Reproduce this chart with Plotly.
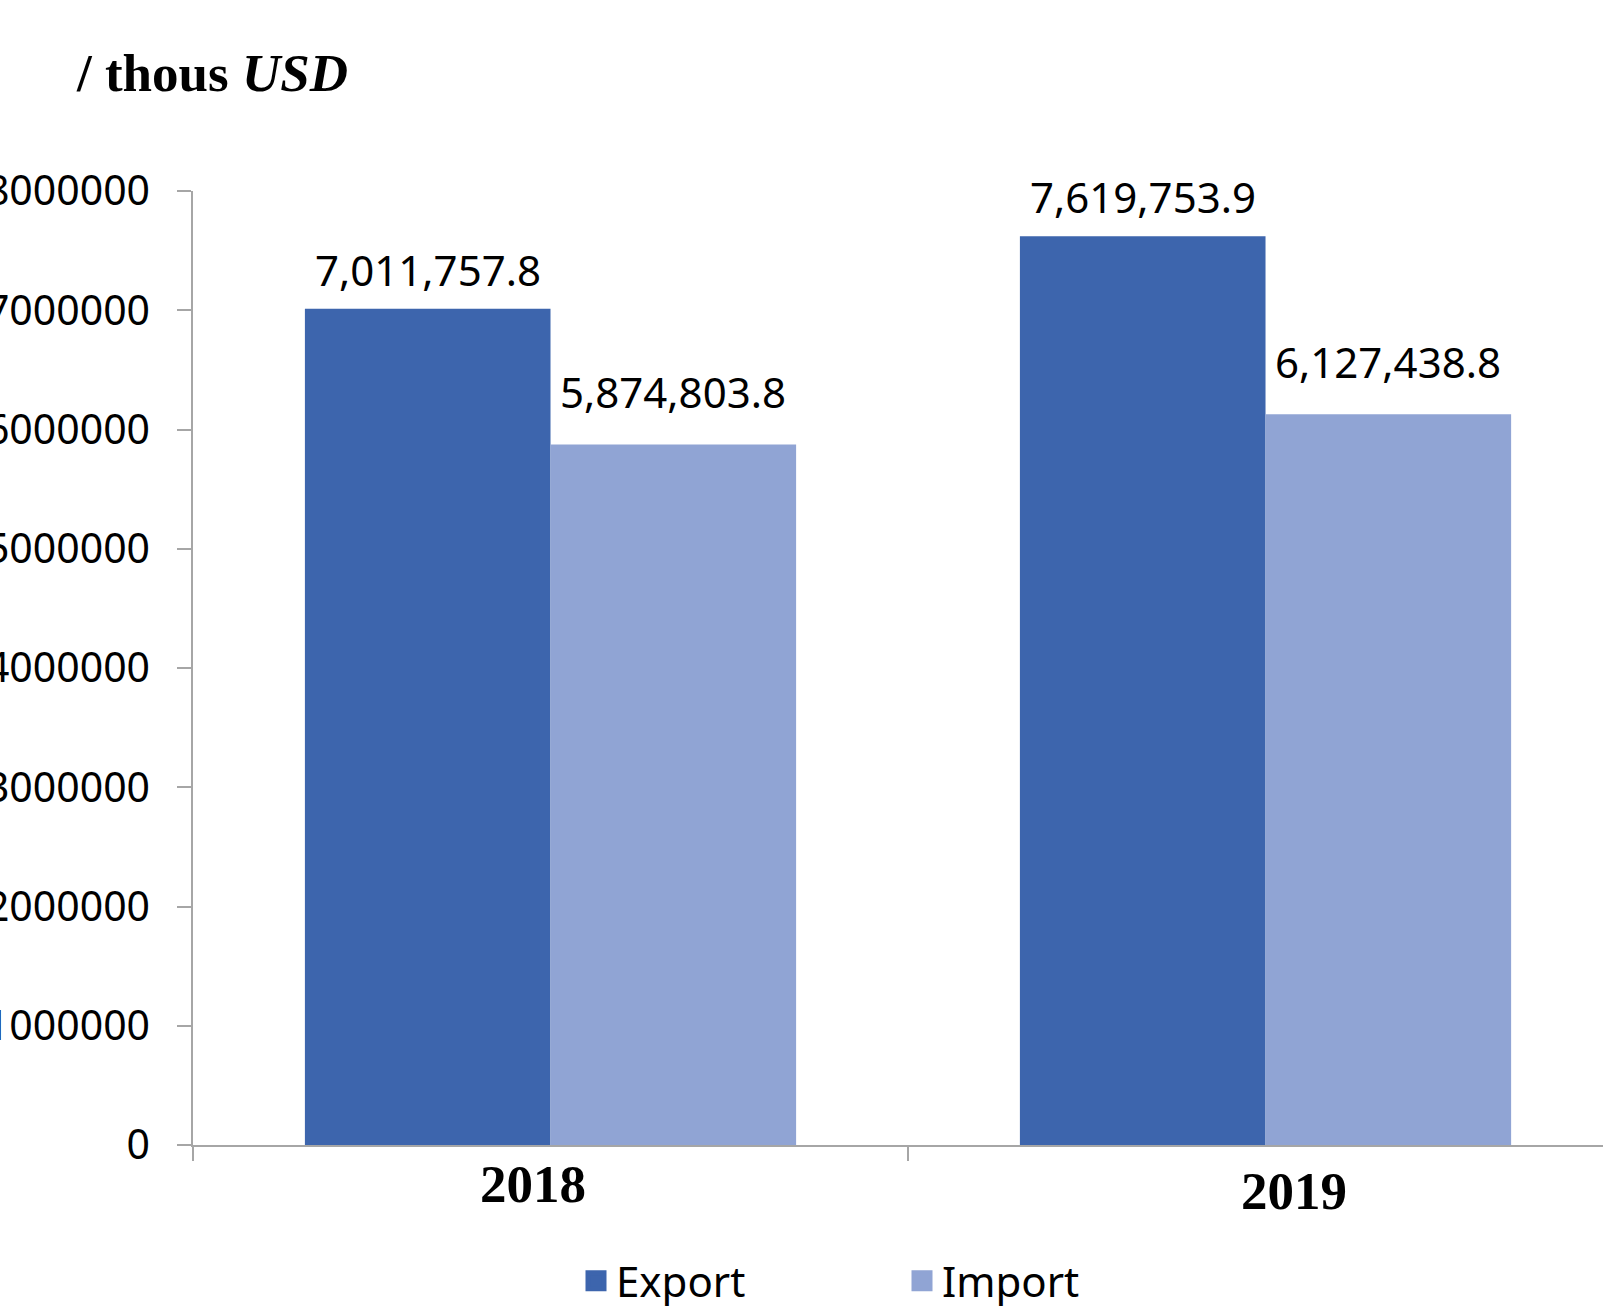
import plotly.graph_objects as go

categories = ["2018", "2019"]
export_values = [7011757.8, 7619753.9]
import_values = [5874803.8, 6127438.8]
series_names = ["Export", "Import"]
y_tick_values = [0, 1000000, 2000000, 3000000, 4000000, 5000000, 6000000, 7000000, 8000000]
y_tick_labels = ["0", "1000000", "2000000", "3000000", "4000000", "5000000", "6000000", "7000000", "8000000"]

colors = ["#3D65AD", "#90A4D4"]
label_font = dict(family="Noto Sans", size=42, color="#000000")
tick_font = dict(family="Noto Sans", size=41, color="#000000")

fig = go.Figure()
for name, vals, col in zip(series_names, [export_values, import_values], colors):
    fig.add_trace(go.Bar(name=name, x=categories, y=vals, showlegend=False,
                         marker=dict(color=col, line=dict(width=0))))
# legend entries (larger square swatches)
for name, col in zip(series_names, colors):
    fig.add_trace(go.Scatter(name=name, x=[None], y=[None], mode="markers",
                             marker=dict(symbol="square", size=16, color=col,
                                         line=dict(color=col, width=5))))

# data labels
bar_offsets = [-122.7, 122.7]
label_yshift = [9, 22]
for si, vals in enumerate([export_values, import_values]):
    for ci, v in enumerate(vals):
        fig.add_annotation(x=ci, y=v, xref="x", yref="y",
                           text=f"{v:,.1f}", showarrow=False, xshift=bar_offsets[si],
                           yanchor="bottom", yshift=label_yshift[si], font=label_font)

# category labels
cat_xshift = [-18, 28]
cat_yshift = [-39, -46]
for ci, c in enumerate(categories):
    fig.add_annotation(x=ci, y=0, xref="x", yref="y", text=f"<b>{c}</b>", showarrow=False,
                       xshift=cat_xshift[ci], yshift=cat_yshift[ci], yanchor="middle",
                       font=dict(family="Liberation Serif", size=53, color="#000000"))

fig.update_layout(
    width=1603, height=1306,
    margin=dict(l=193, r=0, t=191, b=161, autoexpand=False),
    paper_bgcolor="white", plot_bgcolor="white",
    barmode="group", bargap=0.313, bargroupgap=0,
    title=dict(text="<b>/ thous <i>USD</i></b>", x=77/1603, xanchor="left",
               y=1-72/1306, yanchor="middle",
               font=dict(family="Liberation Serif", size=53, color="#000000")),
    legend=dict(orientation="h", xref="container", yref="container",
                x=576/1603, xanchor="left", y=1-1281/1306, yanchor="middle",
                font=label_font, entrywidth=281, bgcolor="rgba(0,0,0,0)"),
    xaxis=dict(type="category", range=[-0.5, 1.472], showline=True, linecolor="#A6A6A6", linewidth=1.5,
               ticks="outside", tickson="boundaries", ticklen=14, tickcolor="#A6A6A6", tickwidth=1.5,
               showticklabels=False, showgrid=False, zeroline=False, automargin=False),
    yaxis=dict(range=[0, 8000000], tickmode="array", tickvals=y_tick_values, ticktext=y_tick_labels,
               showline=True, linecolor="#A6A6A6", linewidth=1.5, ticks="outside", ticklen=14,
               tickcolor="#A6A6A6", tickwidth=1.5, showgrid=False, zeroline=False, automargin=False,
               tickfont=tick_font, ticklabelstandoff=19),
)

fig.write_html("out.html")
